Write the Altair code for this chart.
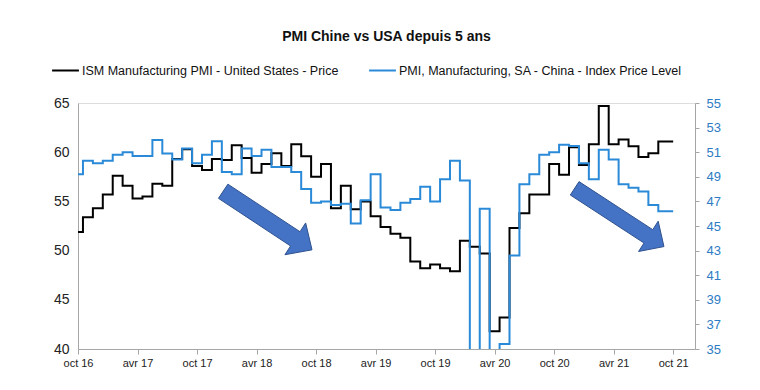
import altair as alt
import pandas as pd

# ---- data (monthly, oct 2016 .. oct 2021; index 0 = oct 16) ----
us_name = "ISM Manufacturing PMI - United States - Price"
cn_name = "PMI, Manufacturing, SA - China - Index Price Level"

us_values = [51.9, 53.4, 54.3, 55.7, 57.6, 56.6, 55.3, 55.5, 56.8, 56.6,
             59.3, 60.3, 58.6, 58.2, 59.3, 59.2, 60.7, 59.4, 57.9, 58.8,
             59.9, 58.6, 60.8, 59.6, 57.5, 58.8, 54.3, 56.6, 54.2, 55.0,
             53.5, 52.4, 51.7, 51.3, 48.9, 48.2, 48.6, 48.2, 47.9, 51.0,
             50.4, 49.7, 41.8, 43.2, 52.3, 53.8, 55.7, 55.7, 58.8, 57.7,
             60.5, 58.7, 60.8, 64.7, 60.8, 61.3, 60.6, 59.5, 59.9, 61.1, 61.1]

cn_values = [49.2, 50.3, 50.1, 50.3, 50.8, 51.0, 50.7, 50.7, 52.0, 50.9,
             50.4, 51.3, 50.1, 50.8, 51.9, 49.4, 49.2, 51.3, 50.7, 51.2,
             49.8, 49.8, 49.4, 48.0, 46.9, 47.0, 46.7, 46.8, 45.2, 47.1,
             49.2, 46.5, 46.3, 46.9, 47.2, 48.2, 47.0, 48.8, 50.3, 48.7,
             30.0, 46.4, 30.0, 35.4, 42.6, 48.4, 49.2, 50.8, 51.0, 51.6,
             51.5, 50.1, 48.8, 51.2, 50.4, 48.4, 48.1, 47.8, 46.7, 46.2, 46.2]

month_index = list(range(len(us_values)))
tick_months = [0, 6, 12, 18, 24, 30, 36, 42, 48, 54, 60]
tick_labels = ["oct 16", "avr 17", "oct 17", "avr 18", "oct 18", "avr 19",
               "oct 19", "avr 20", "oct 20", "avr 21", "oct 21"]

# annotation arrows (block arrows), in (month, left-axis value) units
arrow_id = [1] * 7 + [2] * 7
arrow_order = list(range(7)) * 2
arrow_m = [14.16, 15.11, 22.38, 22.95, 23.59, 20.86, 21.43,
           49.63, 50.51, 57.94, 58.49, 59.07, 56.51, 57.06]
arrow_v = [55.31, 56.75, 51.92, 52.81, 50.08, 49.58, 50.47,
           55.65, 57.01, 52.13, 52.99, 50.41, 49.91, 50.77]

us_df = pd.DataFrame({"m": month_index, "v": us_values, "s": us_name})
cn_df = pd.DataFrame({"m": month_index, "v": cn_values, "s": cn_name})
arrow_df = pd.DataFrame({"id": arrow_id, "o": arrow_order, "m": arrow_m, "v": arrow_v})

FONT = "Liberation Sans"
GRAY = "#A6A6A6"
BLUE_LINE = "#2A8AD8"
BLUE_TXT = "#2E7CC4"

label_expr = "[" + ",".join("'%s'" % t for t in tick_labels) + "][round(datum.value/6)]"

x_enc = alt.X("m:Q",
              scale=alt.Scale(domain=[0, 62.2], nice=False, zero=False),
              axis=alt.Axis(values=tick_months, labelExpr=label_expr, title=None,
                            grid=False, ticks=True, tickSize=5, tickColor=GRAY,
                            domainColor=GRAY, labelFont=FONT, labelFontSize=11,
                            labelColor="#222222", labelPadding=3,
                            labelFlush=False, labelOverlap=False))

color_enc = alt.Color("s:N",
                      scale=alt.Scale(domain=[us_name, cn_name], range=["#000000", BLUE_LINE]),
                      legend=alt.Legend(title=None, orient="none", direction="horizontal",
                                        legendX=-27, legendY=-47,
                                        symbolType="stroke", symbolSize=720,
                                        symbolStrokeWidth=2, labelFont=FONT,
                                        labelFontSize=12.5, labelColor="#111111",
                                        labelLimit=500,
                                        labelOffset=2, columnPadding=26, padding=0))

us_line = alt.Chart(us_df).mark_line(interpolate="step", strokeWidth=2).encode(
    x=x_enc,
    y=alt.Y("v:Q", scale=alt.Scale(domain=[40, 65], nice=False, zero=False),
            axis=alt.Axis(values=[40, 45, 50, 55, 60, 65], title=None, grid=False,
                          ticks=False, domainColor=GRAY, labelFont=FONT,
                          labelFontSize=14, labelColor="#222222", labelPadding=9,
                          orient="left")),
    color=color_enc,
)

cn_line = alt.Chart(cn_df).mark_line(interpolate="step", strokeWidth=2, clip=True).encode(
    x=x_enc,
    y=alt.Y("v:Q", scale=alt.Scale(domain=[35, 55], nice=False, zero=False),
            axis=alt.Axis(values=list(range(35, 56, 2)), title=None, grid=False,
                          ticks=True, tickSize=4, tickColor=GRAY, domainColor=GRAY,
                          labelFont=FONT, labelFontSize=13, labelColor=BLUE_TXT,
                          labelPadding=7, orient="right")),
    color=color_enc,
)

arrows = alt.Chart(arrow_df).mark_line(
    interpolate="linear-closed", fill="#4472C4", fillOpacity=1,
    stroke="#2F528F", strokeWidth=1
).encode(
    x=alt.X("m:Q", scale=alt.Scale(domain=[0, 62.2], nice=False, zero=False)),
    y=alt.Y("v:Q", scale=alt.Scale(domain=[40, 65], nice=False, zero=False), axis=None),
    detail="id:N",
    order="o:Q",
)

chart = alt.layer(us_line, cn_line, arrows).resolve_scale(
    y="independent"
).properties(
    width=617,
    height=246,
    title=alt.TitleParams("PMI Chine vs USA depuis 5 ans", font=FONT, fontSize=14,
                          fontWeight="bold", anchor="middle", color="#111111",
                          offset=12),
    autosize=alt.AutoSizeParams(type="none"),
    padding={"left": 70, "top": 95, "right": 50, "bottom": 30},
).configure_view(stroke=GRAY, strokeWidth=1).configure(background="white")

chart.save("out.html", embed_options={"renderer": "svg", "actions": False})
